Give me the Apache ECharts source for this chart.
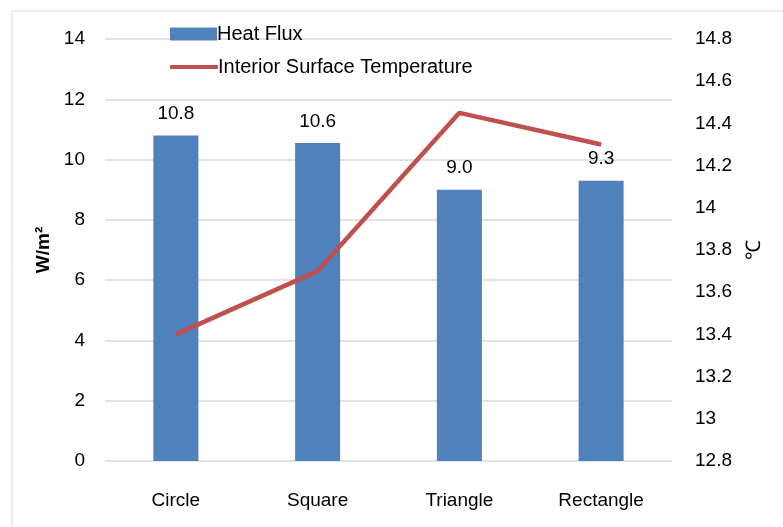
<!DOCTYPE html>
<html>
<head>
<meta charset="utf-8">
<script src="https://cdn.jsdelivr.net/npm/echarts@6/dist/echarts.min.js"></script>
<style>
  html, body { margin: 0; padding: 0; background: #fff; }
  #main { width: 783px; height: 527px; }
</style>
</head>
<body>
<div id="main"></div>
<script>
// values
var categories = ['Circle', 'Square', 'Triangle', 'Rectangle']
var heatFlux = [10.8, 10.55, 9.0, 9.3]
var surfaceTemp = [13.4, 13.7, 14.45, 14.3]

var font = 'Liberation Sans'
var chart = echarts.init(document.getElementById('main'))

var legendText = { fontSize: 20, color: '#000', padding: [0, 0, 0, -5] }

chart.setOption({
  animation: false,
  textStyle: { fontFamily: font },
  graphic: [{
    type: 'rect',
    shape: { x: 12, y: 11, width: 800, height: 560 },
    style: { fill: 'none', stroke: '#d9d9d9', lineWidth: 1 }
  }],
  legend: [
    { // bar swatch
      left: 165,
      top: 19,
      itemWidth: 47,
      itemHeight: 13,
      textStyle: legendText,
      data: [{ name: 'Heat Flux', icon: 'rect' }]
    },
    { // line swatch
      left: 165,
      top: 52,
      itemWidth: 48,
      itemHeight: 4,
      textStyle: legendText,
      data: [{ name: 'Interior Surface Temperature', icon: 'roundRect' }]
    }
  ],
  grid: { left: 105, right: 111, top: 39, bottom: 66 },
  xAxis: {
    type: 'category',
    data: categories,
    axisLine: { show: false },
    axisTick: { show: false },
    axisLabel: { fontSize: 19, color: '#000', margin: 30 }
  },
  yAxis: [
    {
      type: 'value',
      min: 0,
      max: 14,
      interval: 2,
      name: 'W/m²',
      nameLocation: 'middle',
      nameGap: 52,
      nameTextStyle: { fontSize: 19, fontWeight: 'bold', color: '#000' },
      axisLabel: { fontSize: 19, color: '#000', margin: 20 },
      splitLine: { lineStyle: { color: '#d9d9d9', width: 1.5 } }
    },
    {
      type: 'value',
      min: 12.8,
      max: 14.8,
      interval: 0.2,
      name: '℃',
      nameLocation: 'middle',
      nameGap: 72,
      nameRotate: 90,
      nameTextStyle: { fontSize: 20, color: '#000' },
      axisLabel: {
        fontSize: 19,
        color: '#000',
        margin: 23,
        formatter: function (v) { return String(Math.round(v * 10) / 10) }
      },
      splitLine: { show: false }
    }
  ],
  series: [
    {
      name: 'Heat Flux',
      type: 'bar',
      data: heatFlux,
      barWidth: 45,
      z: 2,
      itemStyle: { color: '#4F81BD' },
      label: {
        show: true,
        position: 'top',
        distance: 12,
        fontSize: 19,
        color: '#000',
        formatter: function (p) { return p.value.toFixed(1) }
      }
    },
    {
      name: 'Interior Surface Temperature',
      type: 'line',
      yAxisIndex: 1,
      data: surfaceTemp,
      z: 5,
      symbol: 'none',
      lineStyle: { color: '#C0504D', width: 4.5 },
      itemStyle: { color: '#C0504D' }
    }
  ]
})
</script>
</body>
</html>
